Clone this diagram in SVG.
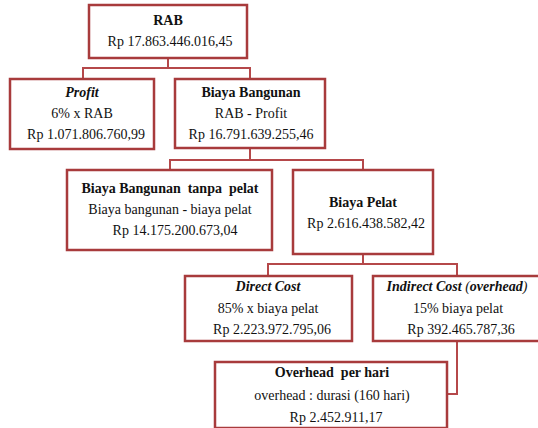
<svg xmlns="http://www.w3.org/2000/svg" width="538" height="428" viewBox="0 0 538 428">
<style>
.box{fill:#fff;stroke:#A83B3C;stroke-width:2.5}
.con{fill:none;stroke:#B5484A;stroke-width:2}
text{font-family:'Liberation Serif','Times New Roman','DejaVu Serif',serif;font-size:14px;fill:#111;text-anchor:middle}
.b{font-weight:bold}
.i{font-style:italic}
</style>
<rect width="538" height="428" fill="#fff"/>
<g id="connectors">
<path class="con" d="M168 58V68M83 79V68H250V79"/>
<path class="con" d="M250 148V160M170 170V160H363V170"/>
<path class="con" d="M363 254V264M268 276V264H457V276"/>
<path class="con" d="M457 341V394H447"/>
</g>
<g id="rab">
<rect class="box" x="89" y="5" width="158" height="53"/>
<text class="b" x="168" y="25">RAB</text>
<text x="170" y="46">Rp 17.863.446.016,45</text>
</g>
<g id="profit">
<rect class="box" x="10" y="79" width="144" height="70"/>
<text class="b i" x="82" y="97">Profit</text>
<text x="82" y="118">6% x RAB</text>
<text x="86" y="139">Rp 1.071.806.760,99</text>
</g>
<g id="biaya-bangunan">
<rect class="box" x="175" y="79" width="150" height="69"/>
<text class="b" x="251" y="97">Biaya Bangunan</text>
<text x="251" y="118">RAB - Profit</text>
<text x="251" y="139">Rp 16.791.639.255,46</text>
</g>
<g id="tanpa-pelat">
<rect class="box" x="67" y="170" width="205" height="80"/>
<text class="b" x="170" y="193" xml:space="preserve">Biaya Bangunan  tanpa  pelat</text>
<text x="170" y="214">Biaya bangunan - biaya pelat</text>
<text x="175" y="235">Rp 14.175.200.673,04</text>
</g>
<g id="biaya-pelat">
<rect class="box" x="293" y="170" width="140" height="84"/>
<text class="b" x="363" y="207">Biaya Pelat</text>
<text x="366" y="228">Rp 2.616.438.582,42</text>
</g>
<g id="direct-cost">
<rect class="box" x="185" y="276" width="167" height="65"/>
<text class="b i" x="268" y="291">Direct Cost</text>
<text x="268" y="313">85% x  biaya pelat</text>
<text x="272" y="334">Rp 2.223.972.795,06</text>
</g>
<g id="indirect-cost">
<rect class="box" x="373" y="276" width="170" height="65"/>
<text x="457" y="291"><tspan class="b i">Indirect Cost</tspan><tspan class="i"> (</tspan><tspan class="b i">overhead</tspan><tspan class="i">)</tspan></text>
<text x="458" y="313">15% biaya pelat</text>
<text x="461" y="334">Rp 392.465.787,36</text>
</g>
<g id="overhead-per-hari">
<rect class="box" x="215" y="362" width="232" height="66"/>
<text class="b" x="332" y="377" xml:space="preserve">Overhead  per hari</text>
<text x="332" y="400">overhead : durasi (160 hari)</text>
<text x="336" y="422">Rp 2.452.911,17</text>
</g>
</svg>
